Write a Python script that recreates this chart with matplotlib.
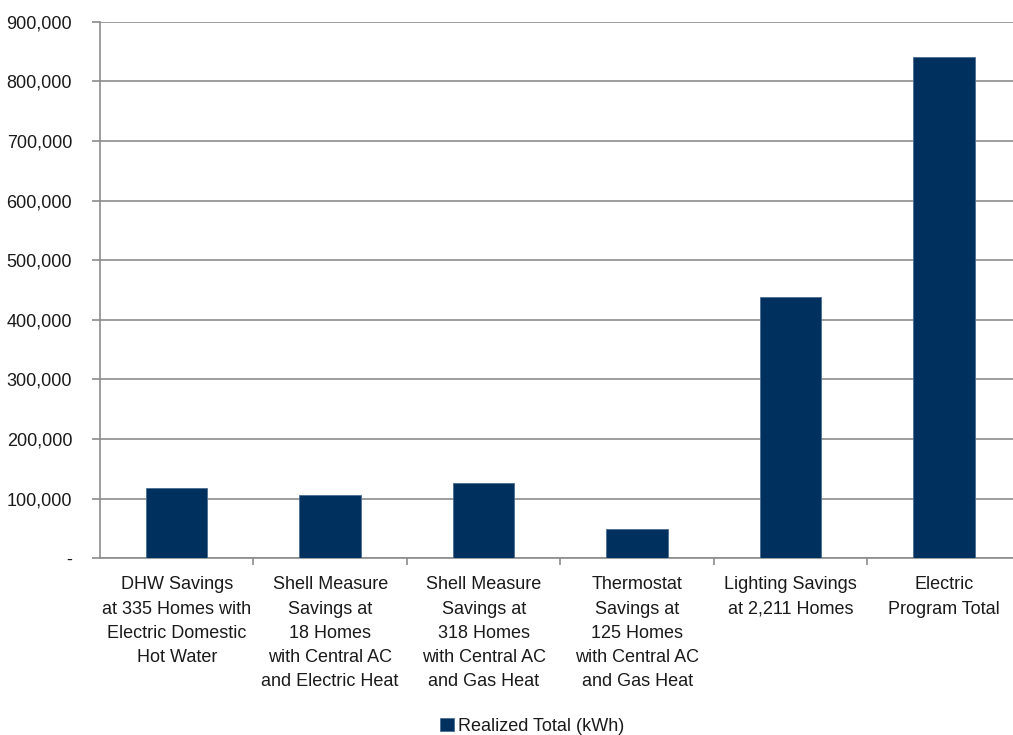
import matplotlib.pyplot as plt
from matplotlib.ticker import FuncFormatter

plt.rcParams['font.family'] = ['Liberation Sans', 'DejaVu Sans']

# data
categories = [
    "DHW Savings\nat 335 Homes with\nElectric Domestic\nHot Water",
    "Shell Measure\nSavings at\n18 Homes\nwith Central AC\nand Electric Heat",
    "Shell Measure\nSavings at\n318 Homes\nwith Central AC\nand Gas Heat",
    "Thermostat\nSavings at\n125 Homes\nwith Central AC\nand Gas Heat",
    "Lighting Savings\nat 2,211 Homes",
    "Electric\nProgram Total",
]
realized_kwh = [118500, 105700, 126800, 49200, 437900, 840600]
series_name = "Realized Total (kWh)"
y_ticks = list(range(0, 900001, 100000))

fig = plt.figure(figsize=(10.13, 7.35), dpi=100)
ax = fig.add_axes([0.0987, 0.2404, 0.909, 0.7301])

x = list(range(len(categories)))
ax.bar(x, realized_kwh, width=0.4, color='#00305E', edgecolor='#4A6C90',
       linewidth=0.6, label=series_name, zorder=3)

ax.set_xlim(-0.5, len(categories) - 0.5)
ax.set_ylim(0, 900000)
ax.set_yticks(y_ticks)
ax.yaxis.set_major_formatter(FuncFormatter(lambda v, p: '-' if v == 0 else f'{int(v):,}'))
ax.grid(axis='y', color='#8C8C8C', linewidth=1.2, zorder=0)

ax.set_xticks(x)
ax.set_xticklabels(categories, fontsize=13, linespacing=1.55, color='#1A1A1A')
ax.set_xticks([i + 0.5 for i in x[:-1]], minor=True)
ax.tick_params(axis='x', which='major', length=0, pad=13)
ax.tick_params(axis='x', which='minor', length=5, color='#8C8C8C', width=1.2)
ax.tick_params(axis='y', length=6, color='#8C8C8C', width=1.2, pad=14,
               labelsize=13, labelcolor='#1A1A1A')

for s in ['top', 'right']:
    ax.spines[s].set_visible(False)
for s in ['left', 'bottom']:
    ax.spines[s].set_color('#8C8C8C')
    ax.spines[s].set_linewidth(1.2)

leg = fig.legend(loc='center', bbox_to_anchor=(0.525, 0.012), frameon=False,
                 fontsize=13, handlelength=0.8, handleheight=0.8, handletextpad=0.2)
for t in leg.get_texts():
    t.set_color('#1A1A1A')

fig.savefig('out.png', dpi=100)
